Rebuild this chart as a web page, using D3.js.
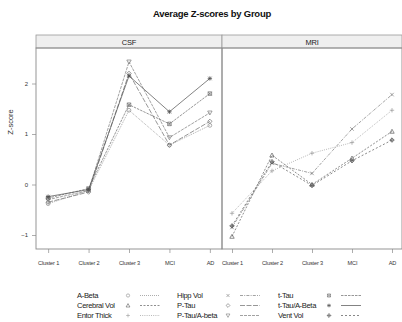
<!DOCTYPE html>
<html><head><meta charset="utf-8">
<script src="https://cdn.jsdelivr.net/npm/d3@7"></script>
<style>
html,body{margin:0;padding:0;background:#fff;}
svg{display:block;font-family:"Liberation Sans",Arial,sans-serif;}
</style></head>
<body><svg id="c" width="402" height="322"></svg>
<script>
// ---- data ----
const categories = ["Cluster 1","Cluster 2","Cluster 3","MCI","AD"];
const panels = ["CSF","MRI"];
const yTicks = [-1,0,1,2];
const seriesNames = ["A-Beta","Cerebral Vol","Entor Thick","Hipp Vol","P-Tau","P-Tau/A-beta","t-Tau","t-Tau/A-Beta","Vent Vol"];
const seriesPanel = ["CSF","MRI","MRI","MRI","CSF","CSF","CSF","CSF","MRI"];
const aBeta      = [-0.38,-0.12,1.47,0.78,1.17];
const cerebralVol= [-1.03,0.58,0.00,0.52,1.05];
const entorThick = [-0.57,0.27,0.62,0.83,1.47];
const hippVol    = [-0.85,0.42,0.22,1.10,1.78];
const pTau       = [-0.35,-0.15,2.20,0.78,1.25];
const pTauABeta  = [-0.30,-0.12,2.43,0.93,1.42];
const tTau       = [-0.27,-0.08,1.58,1.20,1.80];
const tTauABeta  = [-0.24,-0.10,2.15,1.44,2.10];
const ventVol    = [-0.82,0.45,-0.02,0.47,0.88];
const seriesValues = [aBeta,cerebralVol,entorThick,hippVol,pTau,pTauABeta,tTau,tTauABeta,ventVol];

// ---- styles ----
const symbols = ["circle","triUp","plus","cross","diamond","triDown","squareCross","asterisk","diamondPlus"];
const colors = ["#8a8a8a","#5e5e5e","#9a9a9a","#7a7a7a","#6a6a6a","#7a7a7a","#6a6a6a","#4e4e4e","#555"];
const dashes = ["1,1","2,1.5","1,1.2","3,1.2,1,1.2","5,1.5","3,1","2.5,1","none","2,2"];

function symPath(t,h){
  const tri = `M0,${-h}L${h},${h*0.8}L${-h},${h*0.8}Z`;
  const triD = `M0,${h}L${h},${-h*0.8}L${-h},${-h*0.8}Z`;
  const plus = `M${-h},0H${h}M0,${-h}V${h}`;
  const cross = `M${-h*0.8},${-h*0.8}L${h*0.8},${h*0.8}M${-h*0.8},${h*0.8}L${h*0.8},${-h*0.8}`;
  const dia = `M0,${-h}L${h},0L0,${h}L${-h},0Z`;
  const sq = `M${-h*0.8},${-h*0.8}H${h*0.8}V${h*0.8}H${-h*0.8}Z`;
  switch(t){
    case "circle": return `M${h*0.85},0A${h*0.85},${h*0.85} 0 1,1 ${-h*0.85},0A${h*0.85},${h*0.85} 0 1,1 ${h*0.85},0Z`;
    case "triUp": return tri;
    case "plus": return plus;
    case "cross": return cross;
    case "diamond": return dia;
    case "triDown": return triD;
    case "squareCross": return sq+cross;
    case "asterisk": return plus+cross;
    case "diamondPlus": return dia+plus;
  }
}

const svg = d3.select("#c");

// title
svg.append("text").attr("x",212).attr("y",17).attr("text-anchor","middle")
  .attr("font-size",9.5).attr("font-weight","bold").attr("letter-spacing",-0.25).attr("fill","#111")
  .text("Average Z-scores by Group");

const panelTop = 48, panelBottom = 249;
const panelX = {CSF:[36,222], MRI:[222,402]};
const y = d3.scaleLinear().domain([-1,2]).range([235,83.5]);

panels.forEach((p,pi)=>{
  const [x0,x1] = panelX[p];
  const x = d3.scalePoint().domain(categories).range([x0,x1]).padding(pi===0?0.3:0.25);
  // strip
  svg.append("rect").attr("x",x0).attr("y",35).attr("width",x1-x0).attr("height",panelTop-35)
    .attr("fill","#efefef").attr("stroke","#9a9a9a").attr("stroke-width",0.8);
  svg.append("text").attr("x",(x0+x1)/2).attr("y",45).attr("text-anchor","middle")
    .attr("font-size",7.5).attr("fill","#222").attr("letter-spacing",-0.2).text(p);
  // frame
  svg.append("rect").attr("x",x0).attr("y",panelTop).attr("width",x1-x0).attr("height",panelBottom-panelTop)
    .attr("fill","none").attr("stroke","#8a8a8a").attr("stroke-width",0.9);
  // bottom axis
  const ax = svg.append("g").attr("transform",`translate(0,${panelBottom})`)
    .call(d3.axisBottom(x).tickSize(4).tickSizeOuter(0));
  ax.select(".domain").remove();
  ax.selectAll("line").attr("stroke","#8a8a8a").attr("stroke-width",0.7);
  ax.selectAll("text").attr("font-size",5.6).attr("fill","#333").attr("dy",null).attr("y",16)
    .attr("font-family","Liberation Sans, Arial, sans-serif").attr("letter-spacing",-0.15);
  // series
  seriesNames.forEach((s,i)=>{
    if(seriesPanel[i]!==p) return;
    const vals = seriesValues[i];
    const line = d3.line().x((d,j)=>x(categories[j])).y(d=>y(d));
    svg.append("path").attr("d",line(vals)).attr("fill","none")
      .attr("stroke",colors[i]).attr("stroke-width",0.7)
      .attr("stroke-dasharray",dashes[i]==="none"?null:dashes[i]);
    vals.forEach((v,j)=>{
      svg.append("path").attr("d",symPath(symbols[i],2.2))
        .attr("transform",`translate(${x(categories[j])},${y(v)})`)
        .attr("fill","none").attr("stroke",colors[i]).attr("stroke-width",0.7);
    });
  });
});

// left axis
const ay = svg.append("g").attr("transform","translate(36,0)")
  .call(d3.axisLeft(y).tickValues(yTicks).tickSize(4).tickSizeOuter(0).tickFormat(d3.format("d")));
ay.select(".domain").remove();
ay.selectAll("line").attr("stroke","#8a8a8a").attr("stroke-width",0.7);
ay.selectAll("text").attr("font-size",6).attr("fill","#333").attr("x",-8)
  .attr("font-family","Liberation Sans, Arial, sans-serif");

svg.append("text").attr("transform","translate(13,122) rotate(-90)").attr("text-anchor","middle")
  .attr("font-size",7.5).attr("fill","#333").text("Z-score");

// legend
const legCols = [77,177,278];
const legRows = [298,308,318];
seriesNames.forEach((s,i)=>{
  const c = Math.floor(i/3), r = i%3;
  const lx = legCols[c], ly = legRows[r];
  svg.append("text").attr("x",lx).attr("y",ly).attr("font-size",7.6).attr("fill","#222")
    .attr("letter-spacing",-0.35).text(s);
  svg.append("path").attr("d",symPath(symbols[i],1.9))
    .attr("transform",`translate(${lx+51},${ly-2.5})`)
    .attr("fill","none").attr("stroke",colors[i]).attr("stroke-width",0.6);
  svg.append("line").attr("x1",lx+63).attr("x2",lx+83).attr("y1",ly-2.5).attr("y2",ly-2.5)
    .attr("stroke",colors[i]).attr("stroke-width",0.7)
    .attr("stroke-dasharray",dashes[i]==="none"?null:dashes[i]);
});
</script></body></html>
